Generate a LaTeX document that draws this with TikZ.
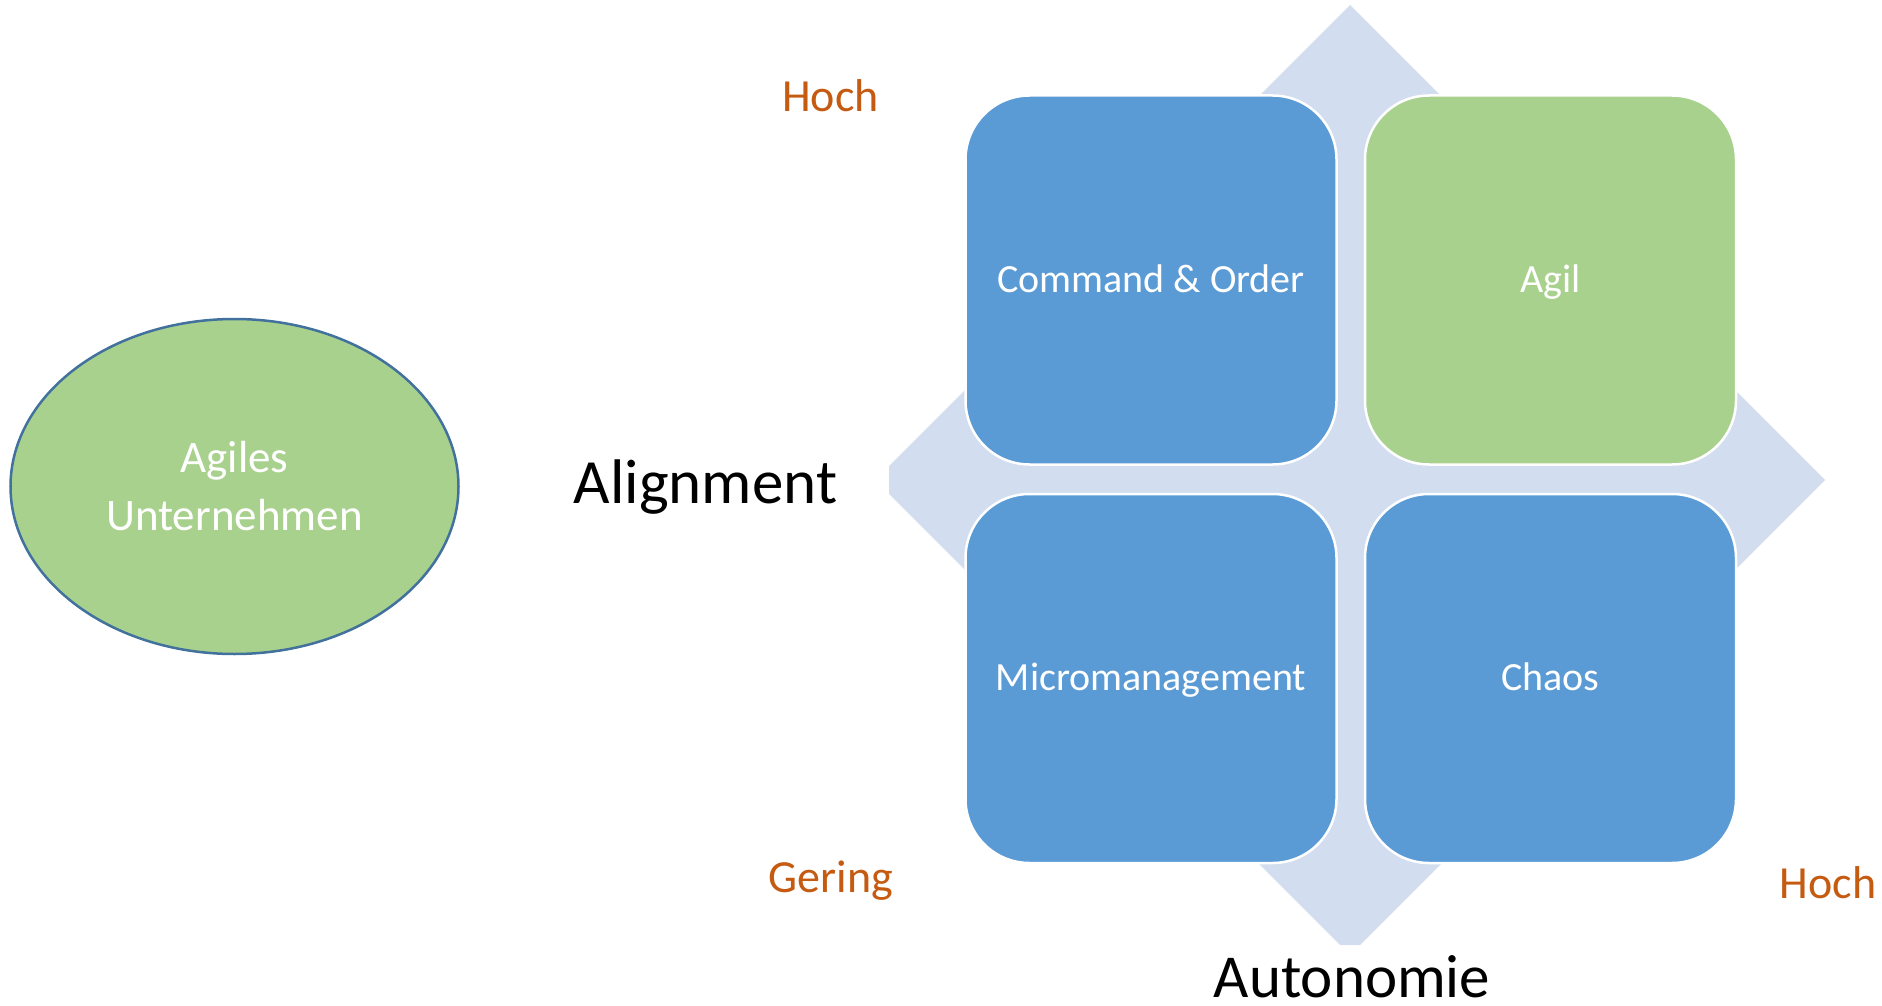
\documentclass[tikz,border=0pt]{standalone}
\usepackage{fontspec}
\setmainfont{Carlito}
\usetikzlibrary{shapes.geometric}
\definecolor{boxblue}{RGB}{91,155,213}
\definecolor{boxgreen}{RGB}{169,209,142}
\definecolor{diamondblue}{RGB}{210,222,239}
\definecolor{axisorange}{RGB}{197,90,17}
\definecolor{ellipseline}{RGB}{65,113,156}
\tikzset{
  quadbox/.style={draw=white, line width=2.5pt, rounded corners=64pt,
    minimum width=371pt, minimum height=369pt, inner sep=0pt, text=white,
    text height=27pt, text depth=3pt,
    font=\fontsize{40}{48}\selectfont},
  levellabel/.style={text=axisorange, inner sep=0pt, anchor=base,
    font=\fontsize{46}{55}\selectfont},
  axislabel/.style={text=black, inner sep=0pt, anchor=base,
    font=\fontsize{63}{75}\selectfont},
  orgellipse/.style={ellipse, draw=ellipseline, line width=2.5pt, fill=boxgreen,
    minimum width=448pt, minimum height=335pt, inner sep=0pt, text=white,
    align=center, font=\fontsize{45}{58}\selectfont}
}
\begin{document}
\begin{tikzpicture}[x=1pt, y=-1pt]
\useasboundingbox (0,0) rectangle (1882,1006);
% background diamond
\fill[diamondblue] (1350,5) -- (1825,480) -- (1360,945) -- (1340,945) -- (889,494) -- (889,466) -- cycle;
% quadrants
\node[quadbox, fill=boxblue]  (co)  at (1151,280) {Command \& Order};
\node[quadbox, fill=boxgreen] (ag)  at (1550.5,280) {Agil};
\node[quadbox, fill=boxblue]  (mm)  at (1151,678.5) {Micromanagement};
\node[quadbox, fill=boxblue]  (ch)  at (1550.5,678.5) {Chaos};
% labels
\node[levellabel] (hochtop) at (830.5,112) {Hoch};
\node[levellabel] (gering)  at (831,892) {Gering};
\node[levellabel] (hochright) at (1828,898) {Hoch};
\node[axislabel] (align) at (705.5,503) {Alignment};
\node[axislabel, font=\fontsize{61}{73}\selectfont] (auto)  at (1352,997) {Autonomie};
% ellipse
\node[orgellipse] (org) at (234.5,486.5) {Agiles\\Unternehmen};
\end{tikzpicture}
\end{document}
